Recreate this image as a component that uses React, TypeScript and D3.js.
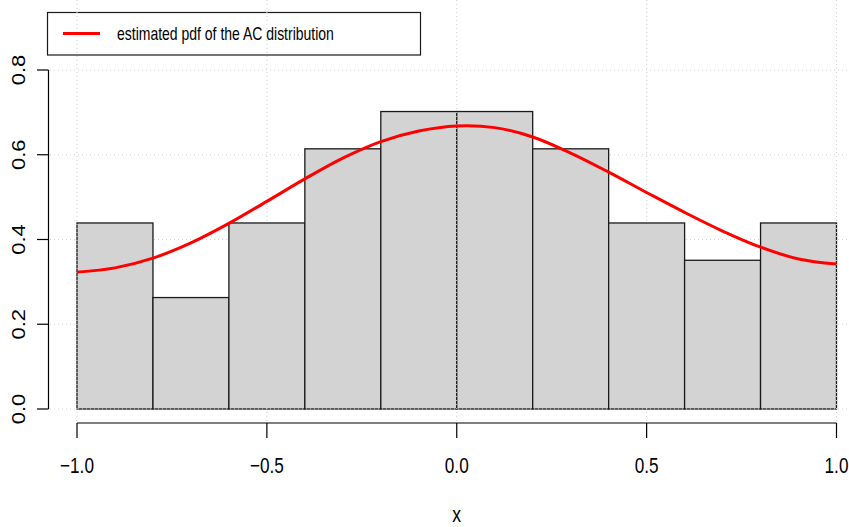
import React from "react";
import * as d3 from "d3";

const binBreaks = [-1.0, -0.8, -0.6, -0.4, -0.2, 0.0, 0.2, 0.4, 0.6, 0.8, 1.0];
const histDensity = [0.439, 0.263, 0.439, 0.614, 0.702, 0.702, 0.614, 0.439, 0.351, 0.439];

const pdfX = [-1.0, -0.9, -0.8, -0.7, -0.6, -0.5, -0.4, -0.3, -0.2, -0.1, 0.0, 0.1, 0.2, 0.3, 0.4, 0.5, 0.6, 0.7, 0.8, 0.9, 1.0];
const pdfY = [0.323, 0.333, 0.356, 0.392, 0.438, 0.490, 0.543, 0.592, 0.631, 0.656, 0.668, 0.664, 0.642, 0.604, 0.559, 0.511, 0.464, 0.420, 0.382, 0.354, 0.342];

const xTicks = [-1.0, -0.5, 0.0, 0.5, 1.0];
const yTicks = [0.0, 0.2, 0.4, 0.6, 0.8];
const legendLabel = "estimated pdf of the AC distribution";
const xLabel = "x";

const W = 849;
const H = 527;
const FONT = "'Liberation Sans', Arial, Helvetica, sans-serif";

const fmt = (v: number) => {
  const s = Math.abs(v).toFixed(1);
  return v < 0 ? "\u2212" + s : s;
};

export default function App() {
  const x = d3.scaleLinear().domain([-1, 1]).range([77, 836.5]);
  const y = d3.scaleLinear().domain([0, 0.8]).range([409, 70]);

  const axisY = 423;
  const axisX = 48.5;
  const gridTop = 0;
  const gridBottom = axisY;
  const gridLeft = 50;
  const gridRight = W;

  const line = d3
    .line<number>()
    .x((_, i) => x(pdfX[i]))
    .y((d) => y(d))
    .curve(d3.curveCatmullRom.alpha(0.5));

  const bars = histDensity.map((d, i) => ({
    x0: binBreaks[i],
    x1: binBreaks[i + 1],
    d,
  }));

  return (
    <svg
      width={W}
      height={H}
      style={{ position: "absolute", left: 0, top: 0, background: "#fff" }}
      fontFamily={FONT}
    >
      <rect x={0} y={0} width={W} height={H} fill="#fff" />
      {/* bars */}
      {bars.map((b, i) => (
        <rect
          key={i}
          x={x(b.x0)}
          y={y(b.d)}
          width={x(b.x1) - x(b.x0)}
          height={y(0) - y(b.d)}
          fill="#d3d3d3"
          stroke="#1a1a1a"
          strokeWidth={1.3}
        />
      ))}
      {/* legend box */}
      <rect x={47.5} y={12.5} width={373} height={42.5} fill="none" stroke="#1a1a1a" strokeWidth={1.2} />
      {/* grid */}
      <g stroke="#d3d3d3" strokeWidth={1.1} strokeDasharray="1,3">
        {xTicks.map((t) => (
          <line key={"gx" + t} x1={x(t)} x2={x(t)} y1={gridTop} y2={gridBottom} />
        ))}
        {yTicks.map((t) => (
          <line key={"gy" + t} x1={gridLeft} x2={gridRight} y1={y(t)} y2={y(t)} />
        ))}
      </g>
      {/* pdf curve */}
      <path d={line(pdfY) || ""} fill="none" stroke="#ff0000" strokeWidth={3} />
      {/* legend contents */}
      <line x1={63} x2={100} y1={33.5} y2={33.5} stroke="#ff0000" strokeWidth={3} />
      <text transform="translate(117,40) scale(0.8,1)" fontSize={17.5} fill="#000">
        {legendLabel}
      </text>
      {/* x axis */}
      <g stroke="#000" strokeWidth={1.2}>
        <line x1={x(xTicks[0])} x2={x(xTicks[xTicks.length - 1])} y1={axisY} y2={axisY} />
        {xTicks.map((t) => (
          <line key={"xt" + t} x1={x(t)} x2={x(t)} y1={axisY} y2={axisY + 15} />
        ))}
      </g>
      {xTicks.map((t) => (
        <text
          key={"xl" + t}
          transform={`translate(${x(t)},473) scale(0.78,1)`}
          textAnchor="middle"
          fontSize={22}
          fill="#000"
        >
          {fmt(t)}
        </text>
      ))}
      <text transform={`translate(${x(0)},522) scale(0.8,1)`} textAnchor="middle" fontSize={22} fill="#000">
        {xLabel}
      </text>
      {/* y axis */}
      <g stroke="#000" strokeWidth={1.2}>
        <line x1={axisX} x2={axisX} y1={y(yTicks[0])} y2={y(yTicks[yTicks.length - 1])} />
        {yTicks.map((t) => (
          <line key={"yt" + t} x1={axisX - 11.5} x2={axisX} y1={y(t)} y2={y(t)} />
        ))}
      </g>
      {yTicks.map((t) => (
        <text
          key={"yl" + t}
          transform={`translate(25,${y(t)}) rotate(-90) scale(1,0.82)`}
          textAnchor="middle"
          fontSize={22}
          fill="#000"
        >
          {fmt(t)}
        </text>
      ))}
    </svg>
  );
}
